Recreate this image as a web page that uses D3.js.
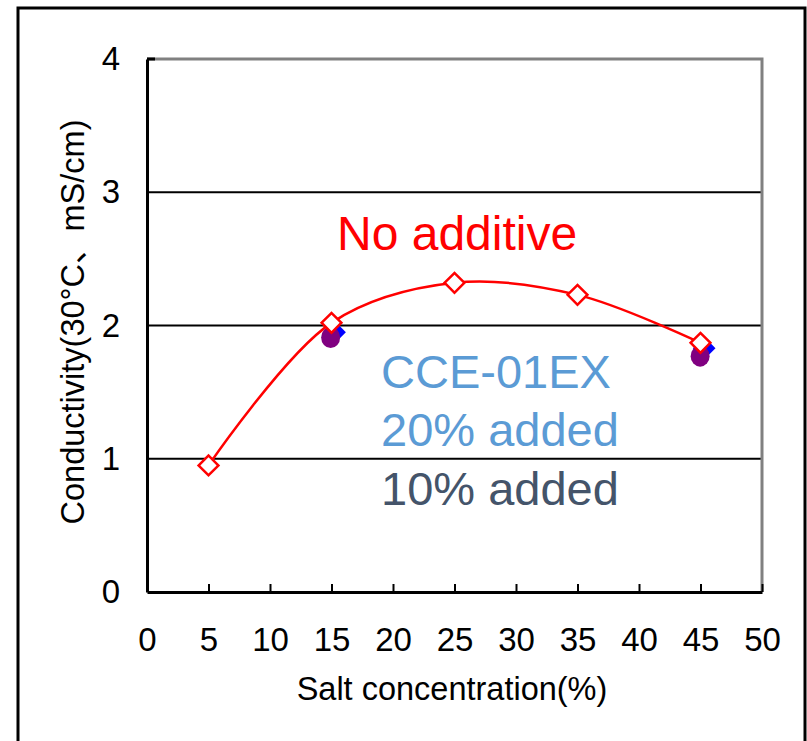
<!DOCTYPE html>
<html><head><meta charset="utf-8">
<script src="https://cdn.jsdelivr.net/npm/d3@7"></script>
<style>
body{margin:0;background:#fff;}
text{font-family:"Liberation Sans",Arial,"Noto Sans CJK JP",sans-serif;}
</style></head>
<body><svg id="c" width="807" height="741"></svg>
<script>
const xTicks = [0,5,10,15,20,25,30,35,40,45,50];
const yTicks = [0,1,2,3,4];
const noAdditiveX = [5,15,25,35,45];
const noAdditiveY = [0.95,2.02,2.32,2.23,1.87];
const add20X = [15.25,45.3];
const add20Y = [1.95,1.83];
const add10X = [14.93,44.97];
const add10Y = [1.91,1.77];
const labels = ["No additive","CCE-01EX","20% added","10% added"];

const svg = d3.select("#c");
const m = {l:147, r:762, t:59, b:592};
const x = d3.scaleLinear().domain([0,50]).range([m.l,m.r]);
const y = d3.scaleLinear().domain([0,4]).range([m.b,m.t]);

// outer frame
svg.append("rect").attr("x",18).attr("y",8).attr("width",787).attr("height",780)
  .attr("fill","none").attr("stroke","#000").attr("stroke-width",3);

// gridlines
svg.append("g").selectAll("line").data(yTicks.filter(d=>d>0&&d<4)).join("line")
  .attr("x1",m.l).attr("x2",m.r).attr("y1",d=>y(d)).attr("y2",d=>y(d))
  .attr("stroke","#000").attr("stroke-width",2);
// top and right border (gray)
svg.append("path").attr("d",`M${m.l},${y(4)}H${m.r}V${m.b}`)
  .attr("fill","none").attr("stroke","#808080").attr("stroke-width",3);

// axes
const xAxis = d3.axisBottom(x).tickValues(xTicks).tickFormat(d3.format("d"))
  .tickSize(-8).tickPadding(36).tickSizeOuter(0);
const gx = svg.append("g").attr("transform",`translate(0,${m.b})`).call(xAxis);
gx.select(".domain").attr("stroke","#000").attr("stroke-width",3);
gx.selectAll(".tick line").attr("stroke","#000").attr("stroke-width",2);
gx.selectAll(".tick text").attr("font-size",33).attr("fill","#000")
  .attr("font-family","Liberation Sans, Arial, sans-serif");

const yAxis = d3.axisLeft(y).tickValues(yTicks).tickFormat(d3.format("d"))
  .tickSize(0).tickPadding(27).tickSizeOuter(0);
const gy = svg.append("g").attr("transform",`translate(${m.l},0)`).call(yAxis);
gy.select(".domain").attr("stroke","#000").attr("stroke-width",3);
gy.selectAll(".tick text").attr("font-size",33).attr("fill","#000")
  .attr("font-family","Liberation Sans, Arial, sans-serif");
svg.append("line").attr("x1",m.l).attr("x2",m.l+8).attr("y1",y(4)).attr("y2",y(4)).attr("stroke","#000").attr("stroke-width",3);

// axis titles
svg.append("text").attr("x",452).attr("y",700).attr("text-anchor","middle")
  .attr("font-size",32.5).text("Salt concentration(%)");
svg.append("text").attr("transform",`translate(84,${322}) rotate(-90)`).attr("text-anchor","middle")
  .attr("font-size",32.5).text("Conductivity(30°C、mS/cm)");

// no additive line
const pts = noAdditiveX.map((d,i)=>[d,noAdditiveY[i]]);
const line = d3.line().x(d=>x(d[0])).y(d=>y(d[1])).curve(d3.curveCatmullRom.alpha(0.5));
svg.append("path").datum(pts).attr("d",line).attr("fill","none").attr("stroke","#FF0000").attr("stroke-width",2.5);

// blue diamonds (20%)
svg.append("g").selectAll("rect").data(add20X.map((d,i)=>[d,add20Y[i]])).join("rect")
  .attr("x",-8).attr("y",-8).attr("width",16).attr("height",16)
  .attr("transform",d=>`translate(${x(d[0])},${y(d[1])}) rotate(45)`)
  .attr("fill","#0000FF");
// purple circles (10%)
svg.append("g").selectAll("ellipse").data(add10X.map((d,i)=>[d,add10Y[i]])).join("ellipse")
  .attr("cx",d=>x(d[0])).attr("cy",d=>y(d[1])).attr("rx",9.5).attr("ry",10.5)
  .attr("fill","#800080");

// red hollow diamonds
svg.append("g").selectAll("rect").data(pts).join("rect")
  .attr("x",-7).attr("y",-7).attr("width",14).attr("height",14)
  .attr("transform",d=>`translate(${x(d[0])},${y(d[1])}) rotate(45)`)
  .attr("fill","#fff").attr("stroke","#FF0000").attr("stroke-width",2.5);

// annotations
svg.append("text").attr("x",337).attr("y",250).attr("font-size",48).attr("fill","#FF0000").text(labels[0]);
svg.append("text").attr("x",381).attr("y",388).attr("font-size",47).attr("fill","#5B9BD5").text(labels[1]);
svg.append("text").attr("x",381).attr("y",446).attr("font-size",47).attr("fill","#5B9BD5").text(labels[2]);
svg.append("text").attr("x",381).attr("y",505).attr("font-size",47).attr("fill","#44546A").text(labels[3]);
</script></body></html>
